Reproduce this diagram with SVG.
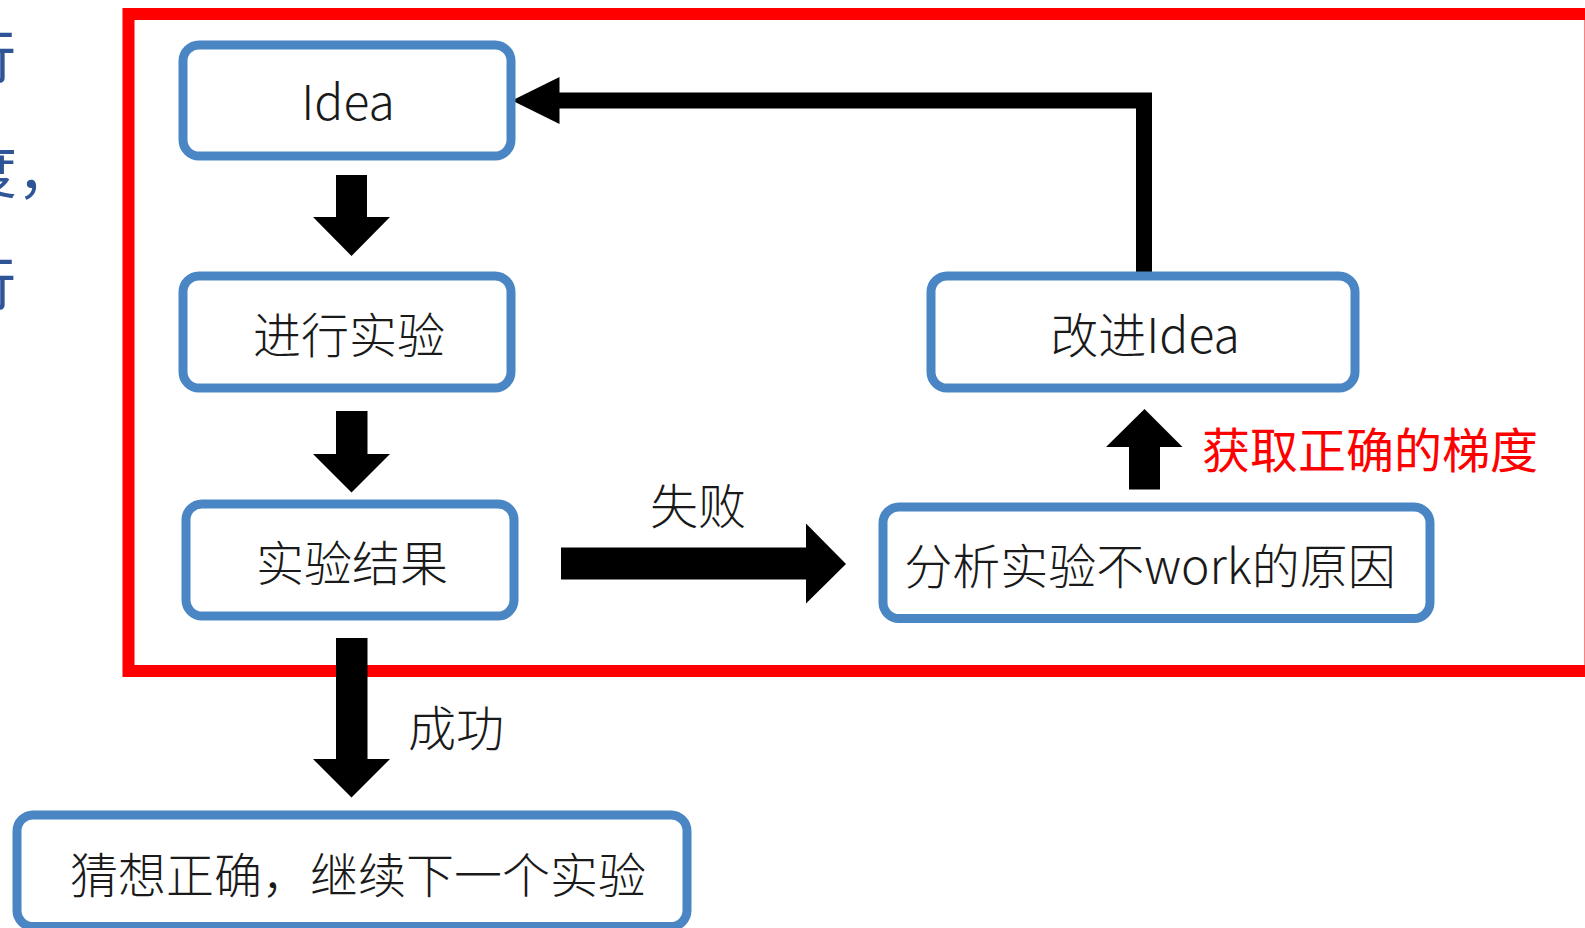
<svg xmlns="http://www.w3.org/2000/svg" width="1585" height="928" viewBox="0 0 1585 928">
<style>
.box{fill:#fff;stroke:#4A86C4;stroke-width:9}
.t{font-family:"Noto Sans CJK SC","Noto Sans",sans-serif;font-weight:300;font-size:48px;fill:#1a1a1a;text-anchor:middle}
.side{font-family:"Noto Sans CJK SC","Noto Sans",sans-serif;font-size:58px;fill:#2F5597}
.arr{fill:#000}
</style>
<rect width="1585" height="928" fill="#fff"/>
<g id="side-text">
<text class="side" x="-42" y="78">行</text>
<text class="side" x="-41" y="193">度，</text>
<text class="side" x="-42" y="305">行</text>
</g>
<rect id="frame" x="128.5" y="14" width="1462" height="657" fill="none" stroke="#FF0000" stroke-width="12"/>
<g id="connectors">
<polygon class="arr" points="336,175 367,175 367,217 390,217 351.5,256 313,217 336,217"/>
<polygon class="arr" points="336,411 367.5,411 367.5,454 390,454 351.5,492.5 313,454 336,454"/>
<polygon class="arr" points="336,638 367.5,638 367.5,759 390,759 351.5,797.5 313,759 336,759"/>
<polygon class="arr" points="561,547.5 806,547.5 806,523.5 846,564 806,603.5 806,579.5 561,579.5"/>
<polygon class="arr" points="1129,489.5 1160,489.5 1160,447 1182.5,447 1144.5,409 1106,447 1129,447"/>
<polygon class="arr" points="1152,276 1136,276 1136,108.5 559.5,108.5 559.5,124 512,100.5 559.5,77 559.5,92.5 1152,92.5"/>
<text class="t" x="698" y="524">失败</text>
<text class="t" x="456" y="746">成功</text>
<text class="t" x="1202" y="468" style="fill:#FF0000;text-anchor:start;font-weight:400">获取正确的梯度</text>
</g>
<g id="n-idea">
<rect class="box" x="183" y="45" width="328" height="111" rx="16"/>
<text class="t" x="348" y="120">Idea</text>
</g>
<g id="n-run">
<rect class="box" x="183" y="276" width="328" height="112" rx="16"/>
<text class="t" x="349" y="353">进行实验</text>
</g>
<g id="n-result">
<rect class="box" x="186" y="504" width="328" height="112" rx="16"/>
<text class="t" x="352" y="581">实验结果</text>
</g>
<g id="n-improve">
<rect class="box" x="931" y="276" width="424" height="112" rx="16"/>
<text class="t" x="1145" y="353">改进Idea</text>
</g>
<g id="n-analyze">
<rect class="box" x="883" y="507" width="547" height="111.5" rx="16"/>
<text class="t" x="1150" y="584">分析实验不work的原因</text>
</g>
<g id="n-success">
<rect class="box" x="17" y="815" width="670" height="111.5" rx="16"/>
<text class="t" x="358" y="893">猜想正确，继续下一个实验</text>
</g>
</svg>
